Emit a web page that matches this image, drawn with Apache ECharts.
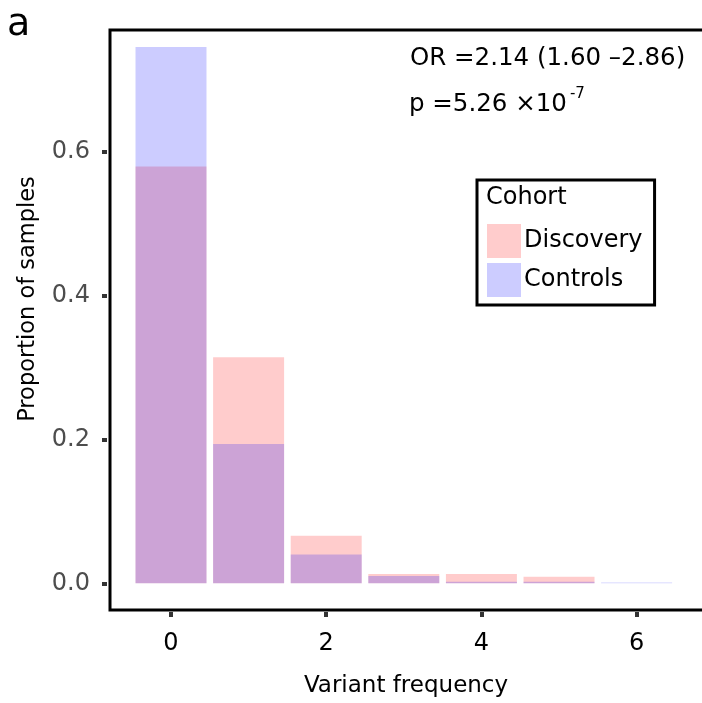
<!DOCTYPE html>
<html>
<head>
<meta charset="utf-8">
<script src="https://cdn.jsdelivr.net/npm/echarts@6/dist/echarts.min.js"></script>
<style>
html,body{margin:0;padding:0;background:#fff;}
#chart{width:702px;height:703px;}
</style>
</head>
<body>
<div id="chart"></div>
<script>
// Data
var variantFrequency = [0, 1, 2, 3, 4, 5, 6];
var discovery = [0.579, 0.314, 0.066, 0.013, 0.013, 0.009, 0.0];
var controls  = [0.745, 0.1935, 0.040, 0.010, 0.002, 0.002, 0.001];
var xTicks = [0, 2, 4, 6];
var yTicks = [0, 0.2, 0.4, 0.6];
var seriesNames = ['Discovery', 'Controls'];

var FONT = 'DejaVu Sans';
var chart = echarts.init(document.getElementById('chart'), null, {renderer: 'canvas'});

function pairs(vals) {
  return variantFrequency.map(function (x, i) { return [x, vals[i]]; });
}

var option = {
  animation: false,
  backgroundColor: '#fff',
  textStyle: {fontFamily: FONT},
  grid: {
    left: 110, top: 30, bottom: 93, width: 596,
    outerBoundsMode: 'none',
    show: true, borderColor: '#000', borderWidth: 3, backgroundColor: 'transparent',
    containLabel: false
  },
  xAxis: {
    type: 'value',
    min: -0.786, max: 6.894,
    offset: 2,
    axisLine: {show: false, onZero: false},
    splitLine: {show: false},
    axisTick: {show: true, length: 5, lineStyle: {color: '#333', width: 4}, customValues: xTicks},
    axisLabel: {show: true, customValues: xTicks, color: '#000', fontSize: 24, fontFamily: FONT, margin: 20,
      formatter: function (v) { return String(v); }}
  },
  yAxis: {
    type: 'value',
    min: -0.0371, max: 0.7685,
    offset: 3,
    axisLine: {show: false, onZero: false},
    splitLine: {show: false},
    axisTick: {show: true, length: 5, lineStyle: {color: '#333', width: 4}, customValues: yTicks},
    axisLabel: {show: true, customValues: yTicks, color: '#4D4D4D', fontSize: 24, fontFamily: FONT, margin: 17,
      formatter: function (v) { return v.toFixed(1); }}
  },
  legend: {
    left: 477, top: 180,
    orient: 'vertical',
    data: seriesNames,
    icon: 'rect',
    itemWidth: 34, itemHeight: 34, itemGap: 5,
    padding: [44, 12, 8, 10],
    borderColor: '#000', borderWidth: 3,
    backgroundColor: '#fff',
    textStyle: {fontSize: 24, color: '#000', fontFamily: FONT, padding: [0, 0, 0, -2]},
    selectedMode: false
  },
  series: [
    {
      name: seriesNames[0], type: 'bar', data: pairs(discovery),
      barWidth: 71, barGap: '-100%',
      itemStyle: {color: 'rgba(255,0,0,0.2)'}
    },
    {
      name: seriesNames[1], type: 'bar', data: pairs(controls),
      barWidth: 71, barGap: '-100%',
      itemStyle: {color: 'rgba(0,0,255,0.2)'}
    }
  ],
  graphic: [
    {type: 'text', left: 7, top: 6, z: 100, style: {text: 'a', fontSize: 38, fontFamily: FONT, fill: '#000'}},
    {type: 'text', x: 486, y: 198, z: 100, zlevel: 1, style: {text: 'Cohort', fontSize: 24, fontFamily: FONT, fill: '#000', verticalAlign: 'middle', align: 'left'}},
    {type: 'text', x: 410, y: 59, z: 100, style: {text: 'OR =2.14 (1.60 \u20132.86)', fontSize: 24.5, fontFamily: FONT, fill: '#000', verticalAlign: 'middle', align: 'left'}},
    {type: 'text', x: 409, y: 87, z: 100, style: {
      text: '{m|p =5.26 \u00d710}{s|-7}', fontFamily: FONT, fill: '#000', verticalAlign: 'top', align: 'left',
      rich: {
        m: {fontSize: 24.5, fontFamily: FONT, lineHeight: 30, verticalAlign: 'bottom'},
        s: {fontSize: 15, fontFamily: FONT, lineHeight: 30, verticalAlign: 'top', padding: [0, 0, 0, 3]}
      }
    }},
    {type: 'text', x: 406, y: 686, z: 100, style: {text: 'Variant frequency', fontSize: 23, fontFamily: FONT, fill: '#000', align: 'center', verticalAlign: 'middle'}},
    {type: 'text', x: 28, y: 299, z: 100, rotation: Math.PI / 2, style: {text: 'Proportion of samples', fontSize: 22.5, fontFamily: FONT, fill: '#000', align: 'center', verticalAlign: 'middle'}}
  ]
};
chart.setOption(option);
</script>
</body>
</html>
